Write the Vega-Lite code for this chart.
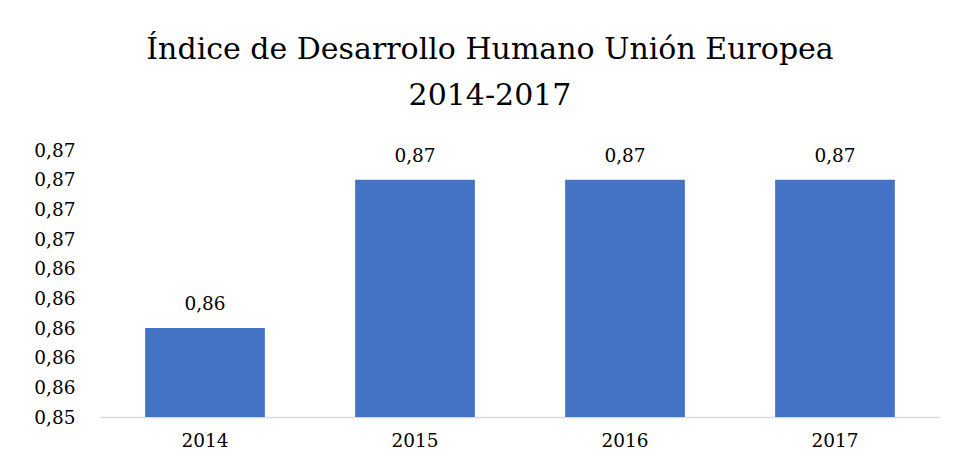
{
  "$schema": "https://vega.github.io/schema/vega-lite/v6.json",
  "autosize": {"type": "none"},
  "width": 840,
  "height": 267,
  "padding": {"left": 100, "top": 150, "right": 17, "bottom": 53},
  "background": "white",
  "config": {
    "locale": {"number": {"decimal": ",", "thousands": ".", "grouping": [3], "currency": ["", " €"]}},
    "view": {"stroke": null},
    "font": "DejaVu Serif"
  },
  "title": {
    "text": ["Índice de Desarrollo Humano Unión Europea", "2014-2017"],
    "font": "DejaVu Serif",
    "fontSize": 30,
    "fontWeight": "normal",
    "color": "#000000",
    "anchor": "middle",
    "dx": -30,
    "offset": 30,
    "lineHeight": 46
  },
  "data": {
    "values": [
      {"year": "2014", "hdi": 0.860},
      {"year": "2015", "hdi": 0.870},
      {"year": "2016", "hdi": 0.870},
      {"year": "2017", "hdi": 0.870}
    ]
  },
  "encoding": {
    "x": {
      "field": "year", "type": "nominal",
      "scale": {"paddingInner": 0.43, "paddingOuter": 0.215},
      "axis": {"title": null, "labelAngle": 0, "labelFont": "DejaVu Serif", "labelFontSize": 18.5, "labelColor": "#000000", "ticks": false, "domainColor": "#d9d9d9", "domainWidth": 1.5, "labelPadding": 14}
    },
    "y": {
      "field": "hdi", "type": "quantitative",
      "scale": {"domain": [0.854, 0.872], "zero": false, "clamp": true, "nice": false},
      "axis": {"title": null, "values": [0.854, 0.856, 0.858, 0.86, 0.862, 0.864, 0.866, 0.868, 0.87, 0.872], "format": ".2f", "labelFont": "DejaVu Serif", "labelFontSize": 18.5, "labelColor": "#000000", "ticks": false, "domain": false, "grid": false, "labelPadding": 25}
    }
  },
  "layer": [
    {"mark": {"type": "bar", "color": "#4472C4"}},
    {
      "mark": {"type": "text", "font": "DejaVu Serif", "fontSize": 18.5, "color": "#000000", "dy": -24, "baseline": "middle"},
      "encoding": {"text": {"field": "hdi", "type": "quantitative", "format": ".2f"}}
    }
  ]
}
